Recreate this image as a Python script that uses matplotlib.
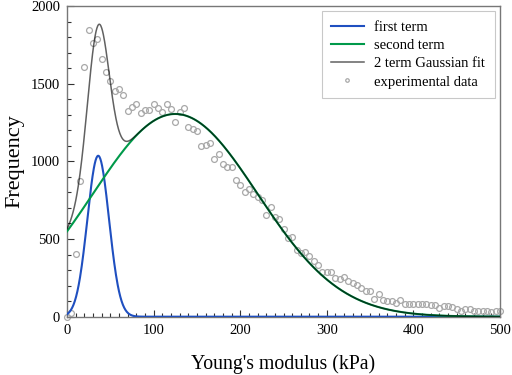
import numpy as np
import matplotlib
matplotlib.use("Agg")
import matplotlib.pyplot as plt
from matplotlib.ticker import MultipleLocator

exp_x = list(range(0, 505, 5))
exp_y = [0, 25, 405, 873, 1605, 1847, 1765, 1786, 1661, 1573,
         1517, 1456, 1463, 1430, 1322, 1348, 1366, 1309, 1333, 1329,
         1370, 1346, 1316, 1366, 1338, 1253, 1320, 1342, 1223, 1208,
         1197, 1098, 1107, 1116, 1013, 1049, 984, 962, 962, 880,
         850, 803, 820, 792, 773, 749, 652, 705, 641, 632,
         563, 509, 516, 432, 412, 418, 388, 358, 332, 285,
         285, 285, 252, 240, 255, 231, 218, 202, 187, 168,
         164, 113, 148, 110, 104, 99, 88, 108, 80, 84,
         82, 80, 80, 80, 75, 73, 58, 67, 67, 63,
         47, 37, 47, 47, 39, 37, 39, 39, 32, 36, 39]

# Gaussian fit parameters (amplitude, centre kPa, width kPa)
term_names = ["first term", "second term"]
term_amp = [1036, 1305]
term_mu = [36, 125]
term_sigma = [12.5, 95]

x = np.linspace(0, 500, 1001)
terms = [a * np.exp(-((x - m) ** 2) / (2 * s ** 2))
         for a, m, s in zip(term_amp, term_mu, term_sigma)]
fit = terms[0] + terms[1]

plt.rcParams['font.family'] = ['Liberation Serif', 'DejaVu Serif']
fig = plt.figure(figsize=(5.12, 3.75), dpi=100)
ax = fig.add_axes([0.1309, 0.1555, 0.8457, 0.8285])

ax.plot(x, terms[0], color='#1f4fc0', lw=1.5, label=term_names[0], zorder=3)
ax.plot(x, terms[1], color='#00994a', lw=1.5, label=term_names[1], zorder=3)
ax.plot(x, fit, color='black', alpha=0.62, lw=1.1, label='2 term Gaussian fit', zorder=4)
ax.plot(exp_x, exp_y, linestyle='none', marker='o', ms=4.2, mfc='none',
        mec='#a8a8a8', mew=0.9, label='experimental data', zorder=2, clip_on=False)

ax.set_xlim(0, 500)
ax.set_ylim(0, 2000)
ax.xaxis.set_major_locator(MultipleLocator(100))
ax.xaxis.set_minor_locator(MultipleLocator(10))
ax.yaxis.set_major_locator(MultipleLocator(500))
ax.yaxis.set_minor_locator(MultipleLocator(100))
ax.tick_params(which='both', direction='in', top=False, right=False,
               colors='#333333', labelcolor='black', labelsize=10.5)
ax.tick_params(which='major', length=5, width=0.8, pad=5)
ax.tick_params(which='minor', length=3, width=0.8)
for sp in ax.spines.values():
    sp.set_color('#777777')
    sp.set_linewidth(1.0)

ax.set_xlabel("Young's modulus (kPa)", fontsize=14.2, labelpad=13)
ax.set_ylabel("Frequency", fontsize=16, labelpad=5)

leg = ax.legend(loc='upper right', bbox_to_anchor=(0.988, 0.984), borderaxespad=0,
                fontsize=10.5, frameon=True, fancybox=False, edgecolor='#bbbbbb',
                handlelength=2.2, handletextpad=0.75, borderpad=0.65,
                labelspacing=0.35, markerscale=0.6)
leg.get_frame().set_linewidth(0.8)

fig.savefig('out.png', dpi=100)
